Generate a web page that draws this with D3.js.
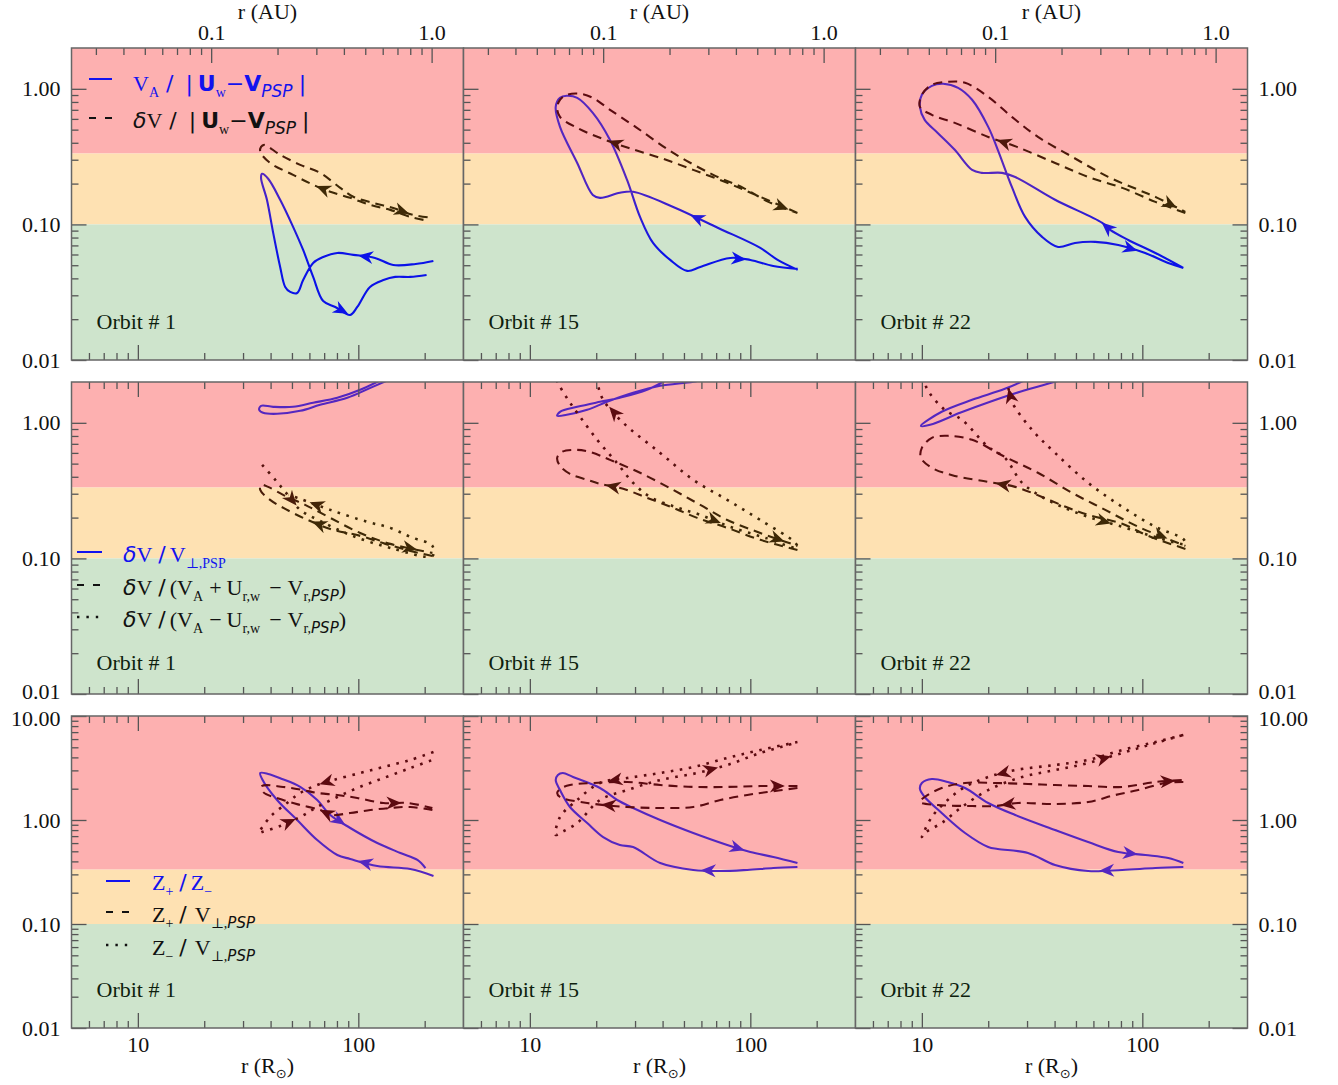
<!DOCTYPE html>
<html>
<head>
<meta charset="utf-8">
<script src="https://cdn.jsdelivr.net/npm/d3@7"></script>
<style>
body { margin: 0; background: #fff; }
text { font-family: "Liberation Serif", "DejaVu Serif", serif; }
</style>
</head>
<body>
<svg id="chart" width="1338" height="1085"></svg>
<script>
// ---- data: [r (R_sun), ratio] along each orbit ----
const orbitNames = ["Orbit # 1", "Orbit # 15", "Orbit # 22"];
const rSunPerAU = 215.03;

// row 1: V_A / |U_w - V_PSP|
const vaRel = [
  [[219,0.0538],[182,0.0511],[144,0.0502],[119,0.0566],[94.9,0.0596],[80.3,0.0616],[69.3,0.0575],[62.4,0.052],[56.2,0.0389],[52.8,0.0312],[49.1,0.0318],[46.6,0.0346],[44.2,0.0486],[41.1,0.0866],[38.5,0.152],[36.2,0.220],[36.6,0.236],[39.0,0.217],[44.2,0.152],[50.6,0.096],[56.2,0.0648],[62.4,0.041],[69.3,0.0272],[78.6,0.0246],[91.9,0.0215],[98.9,0.0246],[113,0.0346],[130,0.0389],[147,0.041],[172,0.041],[204,0.0424]],
  [[164,0.0462],[133,0.0547],[111,0.0671],[71.5,0.0942],[44.7,0.1346],[29.4,0.174],[25.6,0.171],[20.8,0.157],[19.3,0.165],[16.4,0.284],[13.7,0.524],[13.1,0.736],[13.7,0.858],[14.7,0.888],[16.4,0.858],[19.3,0.665],[23.1,0.42],[27.6,0.213],[31.6,0.1136],[36.2,0.073],[43.3,0.0547],[51.7,0.0454],[59.3,0.0486],[81.1,0.0566],[100,0.0547],[127,0.0494],[164,0.047]],
  [[153.5,0.0478],[114.6,0.0616],[86.3,0.0768],[71.5,0.0911],[65.8,0.1026],[40.2,0.152],[26.5,0.224],[23.1,0.24],[18.7,0.24],[16.9,0.2525],[14.1,0.355],[11.8,0.473],[10.3,0.590],[9.8,0.736],[10,0.903],[11.1,1.052],[12.5,1.089],[14.6,1.017],[16.9,0.83],[20,0.524],[22.1,0.355],[25.6,0.189],[29.4,0.1136],[35.1,0.0809],[41.5,0.0682],[49.5,0.073],[61.1,0.0743],[77.8,0.0706],[103,0.0616],[131,0.052],[153.5,0.0478]]
];
const vaRelArrows = [[3, 23], [3, 23], [3, 27]];

// row 1: dV / |U_w - V_PSP|
const dvRel = [
  [[197.5,0.108],[172,0.1136],[139.7,0.128],[113.4,0.139],[91.9,0.157],[74.6,0.174],[62.4,0.196],[50.6,0.232],[39.8,0.284],[35.9,0.343],[36.2,0.373],[37.4,0.386],[44.2,0.326],[54.5,0.275],[67.1,0.240],[82.8,0.186],[94.9,0.160],[117,0.144],[144,0.132],[177.8,0.1175],[216.8,0.1117]],
  [[163.6,0.1216],[111,0.1596],[78.6,0.2025],[55.1,0.2525],[39,0.31],[27.9,0.367],[20.8,0.435],[16.4,0.515],[13.7,0.621],[13.3,0.724],[13.7,0.83],[14.7,0.903],[16.9,0.919],[19.3,0.858],[23.1,0.70],[30.6,0.515],[44.7,0.337],[67.9,0.232],[92.9,0.186],[120.8,0.1466],[163.6,0.1216]],
  [[156.7,0.1216],[114.6,0.1466],[81.1,0.186],[56.8,0.224],[40.2,0.284],[27,0.373],[20,0.442],[14.1,0.561],[11.1,0.643],[9.8,0.736],[10,0.903],[11.1,1.07],[13.1,1.126],[15.7,1.107],[20,0.873],[25.6,0.621],[33.6,0.442],[48.1,0.315],[70,0.224],[95.9,0.18],[117,0.157],[156.7,0.1237]]
];
const dvRelArrows = [[5, 18], [5, 19], [5, 20]];

// row 2: dV / V_perp,PSP
const dvPerp = [
  [[155.2,2.26],[113.4,1.81],[89.1,1.53],[67.1,1.358],[54.5,1.226],[42.8,1.165],[37,1.185],[35.5,1.247],[36.2,1.335],[41.1,1.312],[50.6,1.312],[62.4,1.405],[80.3,1.53],[102,1.752],[132.7,2.15]],
  [[44.2,2.19],[34,1.752],[25.6,1.53],[20.8,1.429],[16.4,1.312],[13.7,1.206],[13.3,1.126],[14.7,1.146],[18.2,1.247],[22.4,1.429],[29.4,1.665],[39,1.875],[55.1,2.01],[67.1,2.15]],
  [[31,2.15],[23.8,1.782],[16.9,1.479],[12.3,1.206],[9.9,0.95],[10.9,0.967],[14.9,1.185],[20.4,1.429],[27.9,1.694],[40.2,2.01],[46.1,2.15]]
];

// row 2: dV / (V_A + U_r,w - V_r,PSP)
const dvPlus = [
  [[216.8,0.1043],[172.2,0.1136],[132.7,0.128],[102,0.1466],[74.6,0.165],[57.4,0.196],[46.6,0.232],[39.8,0.270],[35.9,0.32],[36.2,0.349],[39,0.337],[45.6,0.294],[57.4,0.248],[74.6,0.199],[102,0.154],[139.7,0.128],[216.8,0.1098]],
  [[163.6,0.1155],[111,0.137],[78.6,0.168],[57.4,0.199],[44.7,0.236],[34,0.28],[26.5,0.326],[20.8,0.355],[18.2,0.38],[15.2,0.42],[13.7,0.482],[13.3,0.552],[14,0.611],[16,0.632],[18.7,0.611],[23.1,0.533],[31.6,0.428],[44.7,0.32],[59.3,0.248],[78.6,0.192],[111,0.154],[163.6,0.1237]],
  [[156.9,0.1175],[106.4,0.1466],[81.1,0.18],[56.8,0.2095],[46.1,0.236],[35.1,0.284],[26.5,0.337],[20,0.367],[14.1,0.406],[11.1,0.466],[9.9,0.552],[10,0.654],[11.1,0.775],[13.1,0.802],[16.9,0.749],[23.8,0.561],[33.6,0.428],[48.1,0.304],[67.9,0.228],[95.9,0.171],[156.9,0.1237]]
];
const dvPlusArrows = [[4, 15], [6, 20], [6, 19]];

// row 2: dV / (V_A - U_r,w - V_r,PSP)
const dvMinus = [
  [[36.6,0.49],[42,0.38],[46.6,0.31],[54.5,0.228],[67.1,0.189],[91.9,0.149],[139.7,0.1195],[216.8,0.1043],[216.8,0.1237],[172.2,0.144],[139.7,0.168],[109.9,0.186],[74.6,0.228],[54.5,0.275],[48.1,0.294]],
  [[12.7,2.38],[13.4,1.97],[14.9,1.479],[16.4,1.185],[20.2,0.749],[24.8,0.507],[29.4,0.361],[35.1,0.284],[45.6,0.24],[59.3,0.2095],[81.1,0.171],[117,0.1417],[163.6,0.1195],[160.2,0.130],[111,0.192],[78.6,0.27],[55.1,0.38],[39,0.60],[26.5,1.0],[21.5,1.479],[20.2,1.97],[19.5,2.38]],
  [[10.3,2.19],[10.5,1.81],[12.7,1.247],[15.2,1.052],[20,0.665],[23.8,0.552],[28.5,0.361],[35.1,0.284],[43.3,0.24],[56.8,0.2025],[81.1,0.171],[114.6,0.144],[156.9,0.128],[153.5,0.139],[114.6,0.171],[81.1,0.24],[56.8,0.361],[40.2,0.60],[31.6,0.888],[25.6,1.429],[24.6,1.844],[23.8,2.19]]
];
const dvMinusArrows = [[2, 12], [9, 18], [9, 19]];

// row 3: Z+ / Z-
const zRatio = [
  [[219.3,0.29],[172.2,0.338],[121.9,0.361],[91.9,0.422],[80.3,0.461],[65.1,0.642],[52.8,1.0],[42.8,1.557],[36.6,2.48],[35.9,2.83],[39,2.77],[45.1,2.48],[54.5,2.08],[65.1,1.557],[74.6,1.117],[91.9,0.838],[121.9,0.601],[155.2,0.482],[185.4,0.413],[201.6,0.345]],
  [[163.6,0.353],[127.2,0.345],[96.8,0.331],[73.1,0.323],[55.1,0.331],[39,0.386],[29.4,0.55],[25.6,0.575],[21.5,0.686],[18.2,0.936],[15.2,1.334],[13.7,1.94],[13.1,2.42],[13.4,2.71],[14.1,2.83],[15.7,2.59],[20.8,2.03],[24.9,1.557],[29.4,1.305],[39,1.0],[55.1,0.75],[78.6,0.575],[100,0.492],[127.2,0.441],[163.6,0.386]],
  [[153.5,0.353],[114.6,0.345],[81.1,0.331],[56.8,0.323],[40.2,0.369],[30.3,0.482],[22.1,0.526],[20,0.55],[15.7,0.75],[12.3,1.168],[10.3,1.664],[9.8,1.987],[10,2.27],[11.1,2.48],[13.1,2.32],[15.7,2.03],[20,1.457],[26.5,1.117],[40.2,0.801],[56.8,0.614],[77.8,0.492],[103.2,0.461],[131.2,0.431],[153.5,0.386]]
];
const zRatioArrows = [[2, 14], [3, 21], [2, 20]];

// row 3: Z+ / V_perp,PSP
const zPlus = [
  [[216.8,1.248],[172.2,1.334],[139.7,1.305],[113.4,1.248],[91.9,1.168],[74.6,1.117],[67.1,1.248],[54.5,1.394],[45.6,1.557],[37,1.859],[36.6,2.12],[45.6,2.08],[56.2,1.94],[65.1,1.82],[80.3,1.74],[98.9,1.628],[129.9,1.457],[167,1.457],[216.8,1.305]],
  [[163.6,2.03],[119.4,1.859],[96.8,1.74],[73.1,1.557],[55.1,1.334],[39,1.305],[27.6,1.334],[18.2,1.457],[13.7,1.664],[13.3,1.82],[13.7,1.987],[15.2,2.17],[19.3,2.27],[27.6,2.32],[39,2.17],[55.1,2.08],[78.6,2.08],[111,2.12],[163.6,2.12]],
  [[153.5,2.32],[127.2,2.27],[95.9,1.94],[75.4,1.74],[56.8,1.49],[40.2,1.425],[27.3,1.457],[21.5,1.363],[16.9,1.363],[11.8,1.394],[9.8,1.49],[10.3,1.664],[12.3,2.03],[15.7,2.27],[21.5,2.27],[30.3,2.22],[40.2,2.17],[56.8,2.12],[81.1,2.08],[114.6,2.32],[153.5,2.42]]
];
const zPlusArrows = [[5, 16], [6, 17], [6, 19]];

// row 3: Z- / V_perp,PSP
const zMinus = [
  [[219.3,4.51],[172.2,3.78],[129.9,3.23],[102,2.83],[76.9,2.42],[65.1,2.17],[54.5,1.82],[47.5,1.457],[39.8,1.069],[35.5,0.75],[36.6,0.767],[44.2,0.876],[54.5,1.069],[65.1,1.334],[80.3,1.664],[98.9,2.03],[129.9,2.53],[172.2,3.16],[216.8,3.78]],
  [[163.6,5.62],[111,4.71],[78.6,3.95],[55.1,3.23],[39,2.83],[27.6,2.53],[20.8,2.27],[16.4,1.557],[13.7,1.069],[13.1,0.718],[13.7,0.75],[16.4,0.936],[20.8,1.557],[27.6,1.94],[39,2.42],[57.4,2.83],[78.6,3.38],[111,4.41],[160.2,5.5]],
  [[153.5,6.57],[114.6,5.62],[81.1,4.71],[56.8,3.78],[40.2,3.38],[26.5,3.02],[20,2.59],[15.7,2.08],[13.1,1.557],[11.1,1.069],[10,0.686],[10.3,0.75],[12.3,0.936],[15.2,1.334],[20,1.94],[28.5,2.59],[40.2,3.02],[56.8,3.53],[81.1,4.41],[114.6,5.5],[153.5,6.57]]
];
const zMinusArrows = [[4, 11], [5, 15], [5, 17]];

// ticks
const majorR = [10, 100];
const minorR = [6, 7, 8, 9, 20, 30, 40, 50, 60, 70, 80, 90, 200];
const majorAU = [0.1, 1.0];
const minorAU = [0.03, 0.04, 0.05, 0.06, 0.07, 0.08, 0.09, 0.2, 0.3, 0.4, 0.5, 0.6, 0.7, 0.8, 0.9];
const yTop = [2, 2, 10];

// ---- layout ----
const W = 392, H = 312;
const colX = [71.5, 463.5, 855.5];
const rowY = [48, 382, 716];
const serif = "Liberation Serif";
const sans = "DejaVu Sans";

const svg = d3.select("#chart");
const defs = svg.append("defs");

const blueColor = d3.scaleLog().domain([0.06, 0.22]).range(["#0b12e8", "#5427c0"]).clamp(true);
const darkColor = d3.scaleLog().domain([0.2, 0.6]).range(["#3e2906", "#5c0a10"]).clamp(true);

function gradient(id, y, scale) {
  const [lo, hi] = scale.domain();
  const g = defs.append("linearGradient").attr("id", id)
    .attr("gradientUnits", "userSpaceOnUse")
    .attr("x1", 0).attr("x2", 0).attr("y1", y(hi)).attr("y2", y(lo));
  g.append("stop").attr("offset", 0).attr("stop-color", scale(hi));
  g.append("stop").attr("offset", 1).attr("stop-color", scale(lo));
  return "url(#" + id + ")";
}

function yMinor(top) {
  const out = [];
  [0.01, 0.1, 1].forEach(d => { for (let k = 2; k <= 9; k++) if (d * k < top) out.push(d * k); });
  return out;
}

function styleAxis(g) {
  g.select(".domain").remove();
  g.selectAll(".tick line").attr("stroke", "#555").attr("stroke-width", 1.3);
  g.selectAll(".tick text").attr("font-family", serif).attr("font-size", 22).attr("fill", "#111");
}

function drawArrow(g, x, y, pts, i, color) {
  const x0 = x(pts[i][0]), y0 = y(pts[i][1]);
  const x1 = x(pts[i + 1][0]), y1 = y(pts[i + 1][1]);
  const a = Math.atan2(y1 - y0, x1 - x0) * 180 / Math.PI;
  g.append("path")
    .attr("d", "M6,0 L-9,-6.5 L-4.5,0 L-9,6.5 Z")
    .attr("transform", `translate(${(x0 + x1) / 2},${(y0 + y1) / 2}) rotate(${a})`)
    .attr("fill", color);
}

function panel(row, col, series) {
  const x0 = colX[col], y0 = rowY[row];
  const x = d3.scaleLog().domain([5, 300]).range([x0, x0 + W]);
  const y = d3.scaleLog().domain([0.01, yTop[row]]).range([y0 + H, y0]);
  const g = svg.append("g");

  // coloured bands
  const bands = [
    [yTop[row], 1 / 3, "#fdb0b0"],
    [1 / 3, 0.1, "#fee1b2"],
    [0.1, 0.01, "#cee4cc"]
  ];
  g.selectAll("rect.band").data(bands).join("rect")
    .attr("x", x0).attr("width", W)
    .attr("y", d => y(d[0])).attr("height", d => y(d[1]) - y(d[0]))
    .attr("fill", d => d[2]);

  const clipId = `clip-${row}-${col}`;
  defs.append("clipPath").attr("id", clipId)
    .append("rect").attr("x", x0).attr("y", y0).attr("width", W).attr("height", H);

  const lines = g.append("g").attr("clip-path", `url(#${clipId})`);
  const line = d3.line().x(d => x(d[0])).y(d => y(d[1])).curve(d3.curveCatmullRom.alpha(0.5));
  const blueStroke = gradient(`gb-${row}-${col}`, y, blueColor);
  const darkStroke = gradient(`gd-${row}-${col}`, y, darkColor);

  series.forEach(s => {
    const solid = s.kind === "solid";
    const p = lines.append("path").datum(s.pts)
      .attr("d", line)
      .attr("fill", "none")
      .attr("stroke", solid ? blueStroke : darkStroke)
      .attr("stroke-width", s.kind === "dot" ? 2.6 : 2.1)
      .attr("stroke-linejoin", "round");
    if (s.kind === "dash") p.attr("stroke-dasharray", "9,6");
    if (s.kind === "dot") p.attr("stroke-dasharray", "2.6,6.5");
    (s.arrows || []).forEach(i => {
      const c = solid ? blueColor(s.pts[i][1]) : darkColor(s.pts[i][1]);
      drawArrow(lines, x, y, s.pts, i, c);
    });
  });

  // x ticks, bottom (R_sun)
  const bot = g.append("g").attr("transform", `translate(0,${y0 + H})`);
  bot.append("g").call(d3.axisBottom(x).tickValues(minorR).tickSize(-7).tickFormat("")).call(styleAxis);
  bot.append("g").call(d3.axisBottom(x).tickValues(majorR).tickSize(-15).tickPadding(8)
    .tickFormat(row === 2 ? d3.format("d") : "")).call(styleAxis);

  // x ticks, top
  const top = g.append("g").attr("transform", `translate(0,${y0})`);
  if (row === 0) {
    const xa = d3.scaleLog().domain([5 / rSunPerAU, 300 / rSunPerAU]).range([x0, x0 + W]);
    top.append("g").call(d3.axisTop(xa).tickValues(minorAU).tickSize(-7).tickFormat("")).call(styleAxis);
    top.append("g").call(d3.axisTop(xa).tickValues(majorAU).tickSize(-15).tickPadding(8)
      .tickFormat(d3.format(".1f"))).call(styleAxis);
  } else {
    top.append("g").call(d3.axisTop(x).tickValues(minorR).tickSize(-7).tickFormat("")).call(styleAxis);
    top.append("g").call(d3.axisTop(x).tickValues(majorR).tickSize(-15).tickFormat("")).call(styleAxis);
  }

  // y ticks
  const majorY = yTop[row] > 5 ? [0.01, 0.1, 1, 10] : [0.01, 0.1, 1];
  // labels at the shared edge between rows 2 and 3 nudged apart
  const nudge = d => (row === 1 && d === 0.01) ? -2.5 : (row === 2 && d === 10) ? 2.5 : 0;
  const left = g.append("g").attr("transform", `translate(${x0},0)`);
  left.append("g").call(d3.axisLeft(y).tickValues(yMinor(yTop[row])).tickSize(-7).tickFormat("")).call(styleAxis);
  left.append("g").call(d3.axisLeft(y).tickValues(majorY).tickSize(-15).tickPadding(11)
    .tickFormat(col === 0 ? d3.format(".2f") : "")).call(styleAxis)
    .selectAll(".tick text").attr("y", nudge);
  if (col === 2) {
    const right = g.append("g").attr("transform", `translate(${x0 + W},0)`);
    right.append("g").call(d3.axisRight(y).tickValues(yMinor(yTop[row])).tickSize(-7).tickFormat("")).call(styleAxis);
    right.append("g").call(d3.axisRight(y).tickValues(majorY).tickSize(-15).tickPadding(11)
      .tickFormat(d3.format(".2f"))).call(styleAxis)
      .selectAll(".tick text").attr("y", nudge);
  }

  g.append("rect").attr("x", x0).attr("y", y0).attr("width", W).attr("height", H)
    .attr("fill", "none").attr("stroke", "#666").attr("stroke-width", 1.5);

  g.append("text").attr("x", x0 + 25).attr("y", y0 + (row === 1 ? 288 : 281))
    .attr("font-size", 22).attr("fill", "#0e1f0e").text(orbitNames[col]);

  if (row === 0) {
    g.append("text").attr("x", x0 + W / 2).attr("y", 19).attr("text-anchor", "middle")
      .attr("font-size", 22).attr("fill", "#111").text("r (AU)");
  }
  if (row === 2) {
    const t = g.append("text").attr("x", x0 + W / 2).attr("y", 1073).attr("text-anchor", "middle")
      .attr("font-size", 22).attr("fill", "#111");
    t.append("tspan").text("r (R");
    t.append("tspan").attr("font-family", sans).attr("font-size", 13).attr("dy", 5).text("\u2299");
    t.append("tspan").attr("dy", -5).text(")");
  }
}

// rich text for the legends
function rich(x, y, parts, fill) {
  const t = svg.append("text").attr("x", x).attr("y", y).attr("fill", fill)
    .attr("font-size", 22).style("white-space", "pre");
  let shift = 0;
  parts.forEach(p => {
    const s = p.sub ? 6 : 0;
    const ts = t.append("tspan").text(p.t).attr("dy", s - shift);
    shift = s;
    if (p.dx) ts.attr("dx", p.dx);
    if (p.sans) ts.attr("font-family", sans);
    if (p.b) ts.attr("font-weight", "bold");
    if (p.i) ts.attr("font-style", "italic");
    if (p.sub) ts.attr("font-size", p.fs || 14);
  });
}

function sample(x1, x2, y, kind, color) {
  const l = svg.append("line").attr("x1", x1).attr("x2", x2).attr("y1", y).attr("y2", y)
    .attr("stroke", color).attr("stroke-width", kind === "dot" ? 2.4 : 2);
  if (kind === "dash") l.attr("stroke-dasharray", "7,9");
  if (kind === "dot") l.attr("stroke-dasharray", "2.4,7");
}

const rows = [
  [vaRel, dvRel],
  [dvPerp, dvPlus, dvMinus],
  [zRatio, zPlus, zMinus]
];
const rowArrows = [
  [vaRelArrows, dvRelArrows],
  [null, dvPlusArrows, dvMinusArrows],
  [zRatioArrows, zPlusArrows, zMinusArrows]
];
const kinds = ["solid", "dash", "dot"];

rows.forEach((sets, r) => {
  for (let c = 0; c < 3; c++) {
    panel(r, c, sets.map((s, k) => ({
      pts: s[c],
      kind: kinds[k],
      arrows: rowArrows[r][k] ? rowArrows[r][k][c] : []
    })));
  }
});

// legends
const legBlue = "#1212ee";
sample(89, 112, 79, "solid", legBlue);
rich(133, 91, [
  { t: "V" }, { t: "A", sub: true },
  { t: "/", sans: true, dx: 7 }, { t: "|", sans: true, dx: 12 },
  { t: "U", sans: true, b: true, dx: 5 }, { t: "w", sub: true }, { t: "\u2212", sans: true },
  { t: "V", sans: true, b: true }, { t: "PSP", sub: true, sans: true, i: true, fs: 17 },
  { t: "|", sans: true, dx: 6 }
], legBlue);
sample(89, 112, 118, "dash", "#111");
rich(133, 128, [
  { t: "\u03b4", sans: true, i: true }, { t: "V" },
  { t: "/", sans: true, dx: 7 }, { t: "|", sans: true, dx: 12 },
  { t: "U", sans: true, b: true, dx: 5 }, { t: "w", sub: true }, { t: "\u2212", sans: true },
  { t: "V", sans: true, b: true }, { t: "PSP", sub: true, sans: true, i: true, fs: 17 },
  { t: "|", sans: true, dx: 6 }
], "#111");

sample(77, 102, 552, "solid", legBlue);
rich(123, 562, [
  { t: "\u03b4", sans: true, i: true }, { t: "V" }, { t: "/", sans: true, dx: 6 },
  { t: "V", dx: 4 }, { t: "\u22a5,PSP", sub: true }
], legBlue);
sample(77, 102, 585, "dash", "#111");
rich(123, 595, [
  { t: "\u03b4", sans: true, i: true }, { t: "V" }, { t: "/", sans: true, dx: 6 },
  { t: "(V", dx: 4 }, { t: "A", sub: true }, { t: "+", dx: 6 }, { t: "U", dx: 5 },
  { t: "r,w", sub: true }, { t: "\u2212", dx: 9 }, { t: "V", dx: 6 }, { t: "r,", sub: true },
  { t: "PSP", sub: true, sans: true, i: true, fs: 15 }, { t: ")" }
], "#111");
sample(77, 102, 617, "dot", "#111");
rich(123, 627, [
  { t: "\u03b4", sans: true, i: true }, { t: "V" }, { t: "/", sans: true, dx: 6 },
  { t: "(V", dx: 4 }, { t: "A", sub: true }, { t: "\u2212", dx: 6 }, { t: "U", dx: 5 },
  { t: "r,w", sub: true }, { t: "\u2212", dx: 9 }, { t: "V", dx: 6 }, { t: "r,", sub: true },
  { t: "PSP", sub: true, sans: true, i: true, fs: 15 }, { t: ")" }
], "#111");

sample(106, 130, 881, "solid", legBlue);
rich(152, 890, [
  { t: "Z" }, { t: "+", sub: true }, { t: "/", sans: true, dx: 6 }, { t: "Z", dx: 4 },
  { t: "\u2212", sub: true }
], legBlue);
sample(106, 130, 912, "dash", "#111");
rich(152, 922, [
  { t: "Z" }, { t: "+", sub: true }, { t: "/", sans: true, dx: 6 }, { t: "V", dx: 8 },
  { t: "\u22a5,", sub: true }, { t: "PSP", sub: true, sans: true, i: true, fs: 15 }
], "#111");
sample(106, 130, 945, "dot", "#111");
rich(152, 955, [
  { t: "Z" }, { t: "\u2212", sub: true }, { t: "/", sans: true, dx: 6 }, { t: "V", dx: 8 },
  { t: "\u22a5,", sub: true }, { t: "PSP", sub: true, sans: true, i: true, fs: 15 }
], "#111");
</script>
</body>
</html>
